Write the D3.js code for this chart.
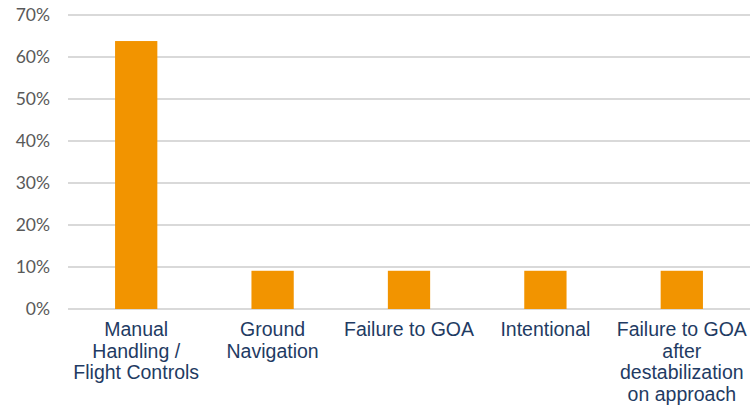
<!DOCTYPE html>
<html lang="en">
<head>
  <meta charset="utf-8">
  <script src="https://d3js.org/d3.v7.min.js"></script>
  <style>
    body { margin: 0; background: #fff; }
    .tick-label { font-family: Lato, "Open Sans", sans-serif; font-size: 17.5px; fill: #595959; }
    .cat-label { font-family: "Liberation Sans", Arial, sans-serif; font-size: 19.5px; fill: #1f3b63; }
    .grid line { stroke: #d9d9d9; stroke-width: 2; }
    .bar { fill: #f29400; }
  </style>
</head>
<body>
  <svg id="chart" width="750" height="405"></svg>
  <script>
    var categories = [
      ["Manual", "Handling /", "Flight Controls"],
      ["Ground", "Navigation"],
      ["Failure to GOA"],
      ["Intentional"],
      ["Failure to GOA", "after", "destabilization", "on approach"]
    ];
    var values = [63.8, 9.1, 9.1, 9.1, 9.1];
    var ticks = [0, 10, 20, 30, 40, 50, 60, 70];

    var svg = d3.select("#chart");
    var mLeft = 68, mRight = 750, mTop = 15, mBottom = 309;

    var x = d3.scaleBand()
      .domain(d3.range(categories.length))
      .range([mLeft, mRight])
      .paddingInner(0.69)
      .paddingOuter(0.345);

    var y = d3.scaleLinear()
      .domain([0, 70])
      .range([mBottom, mTop]);

    // gridlines
    svg.append("g").attr("class", "grid")
      .selectAll("line")
      .data(ticks)
      .enter().append("line")
        .attr("x1", mLeft)
        .attr("x2", mRight)
        .attr("y1", function(d) { return y(d); })
        .attr("y2", function(d) { return y(d); });

    // tick labels
    svg.append("g")
      .selectAll("text")
      .data(ticks)
      .enter().append("text")
        .attr("class", "tick-label")
        .attr("x", 50)
        .attr("y", function(d) { return y(d); })
        .attr("dy", "0.36em")
        .attr("text-anchor", "end")
        .text(function(d) { return d + "%"; });

    // bars
    svg.append("g")
      .selectAll("rect")
      .data(values)
      .enter().append("rect")
        .attr("class", "bar")
        .attr("x", function(d, i) { return x(i); })
        .attr("width", x.bandwidth())
        .attr("y", function(d) { return y(d); })
        .attr("height", function(d) { return y(0) - y(d); });

    // category labels
    var lab = svg.append("g")
      .selectAll("text")
      .data(categories)
      .enter().append("text")
        .attr("class", "cat-label")
        .attr("text-anchor", "middle")
        .attr("transform", function(d, i) { return "translate(" + (x(i) + x.bandwidth() / 2) + ",336)"; });

    lab.selectAll("tspan")
      .data(function(d) { return d; })
      .enter().append("tspan")
        .attr("x", 0)
        .attr("y", function(d, j) { return j * 21.5; })
        .text(function(d) { return d; });
  </script>
</body>
</html>
